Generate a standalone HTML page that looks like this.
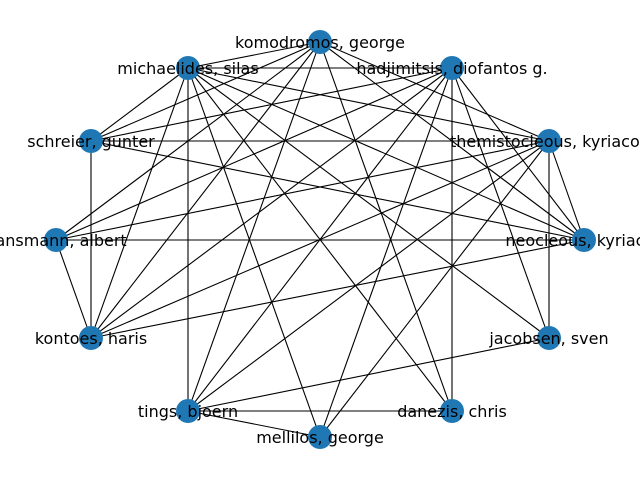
<!DOCTYPE html>
<html><head><meta charset="utf-8"><style>
html,body{margin:0;padding:0;background:#fff;}
svg{display:block;}
text{font-family:"DejaVu Sans","Liberation Sans",sans-serif;font-size:16px;fill:#000;}
</style></head><body>
<svg id="chart" width="640" height="480" viewBox="0 0 640 480">
<g id="edges"></g>
<g id="nodes"></g>
<g id="labels"></g>
</svg>
<script>
const nodeNames = ["komodromos, george","hadjimitsis, diofantos g.","themistocleous, kyriacos","neocleous, kyriacos","jacobsen, sven","danezis, chris","mellilos, george","tings, bjoern","kontoes, haris","hansmann, albert","schreier, gunter","michaelides, silas"];
const nodeX = [320,452,549,584,549,452,320,188,91,56,91,188];
const nodeY = [42,68,141,240,338,411,437,411,338,240,141,68];
const edgeFrom = [11,0,0,0,0,0,0,0,0, 11,11,11,11,11,11,11,11, 1,1,1,1,1,1,1,1, 2,2,2,2,2,2,2, 3,3, 4, 5, 10,10, 9, 7];
const edgeTo   = [1, 11,10,9,8,7,2,3,5, 10,8,7,6,5,4,3,2, 10,9,8,7,6,5,4,3, 10,9,8,7,6,3,4, 9,8, 7, 7, 8,3, 8, 6];
const NS="http://www.w3.org/2000/svg";
const eg=document.getElementById('edges'), ng=document.getElementById('nodes'), lg=document.getElementById('labels');
for(let i=0;i<edgeFrom.length;i++){
  const l=document.createElementNS(NS,'line');
  l.setAttribute('x1',nodeX[edgeFrom[i]]);l.setAttribute('y1',nodeY[edgeFrom[i]]);
  l.setAttribute('x2',nodeX[edgeTo[i]]);l.setAttribute('y2',nodeY[edgeTo[i]]);
  l.setAttribute('stroke','#000');l.setAttribute('stroke-width','1.1');
  
  
  eg.appendChild(l);
}
for(let i=0;i<nodeNames.length;i++){
  const c=document.createElementNS(NS,'circle');
  c.setAttribute('cx',nodeX[i]);c.setAttribute('cy',nodeY[i]);c.setAttribute('r','12');
  c.setAttribute('fill','#1f77b4');
  
  
  ng.appendChild(c);
  const t=document.createElementNS(NS,'text');
  t.setAttribute('x',nodeX[i]);t.setAttribute('y',nodeY[i]+6);
  t.setAttribute('text-anchor','middle');
  t.textContent=nodeNames[i];
  
  
  lg.appendChild(t);
}
</script>
</body></html>
